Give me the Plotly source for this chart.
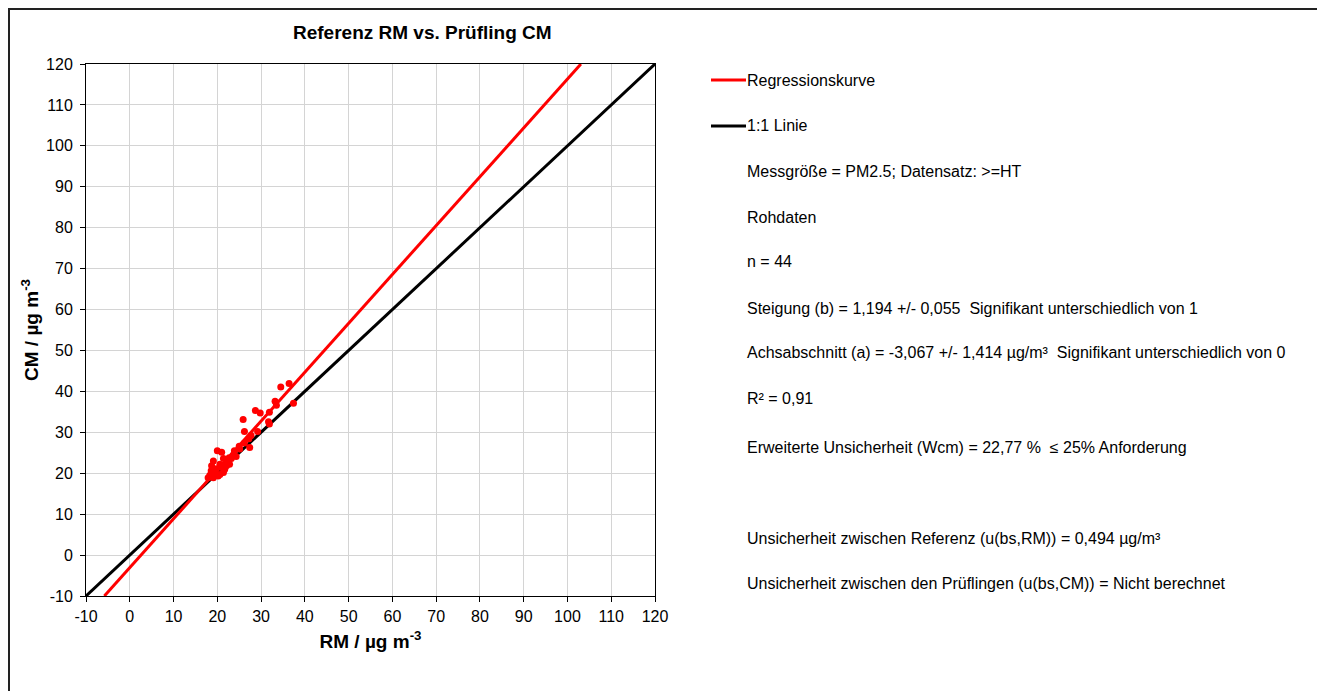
import plotly.graph_objects as go

# ---- data ----
rm = [34.5, 36.4, 33.2, 33.5, 37.4, 28.7, 29.8, 31.9, 25.9, 31.7, 31.9, 26.2, 29.2, 27.7,
      27.2, 27.4, 26.2, 25.1, 23.9, 23.6, 23.2, 20.0, 21.0, 21.4, 22.3, 19.1, 20.6, 19.8,
      18.7, 21.0, 19.5, 18.3, 19.1, 20.2, 17.9, 21.4, 22.1, 21.7, 22.8, 24.3, 22.7, 20.6,
      18.6, 25.0]
cm = [41.1, 41.9, 37.6, 36.6, 37.1, 35.3, 34.7, 34.9, 33.1, 32.6, 32.0, 30.2, 30.2, 29.2,
      28.4, 26.3, 27.4, 25.9, 25.5, 24.4, 23.6, 25.5, 25.1, 23.6, 23.0, 23.0, 22.2, 21.1,
      21.8, 21.4, 20.2, 19.5, 18.9, 19.3, 18.9, 20.2, 21.8, 21.0, 22.2, 24.1, 23.8, 19.7,
      20.6, 26.6]

slope = 1.194
intercept = -3.067
axis_min, axis_max = -10, 120
ticks = list(range(-10, 121, 10))

info_lines = [
    "Messgröße = PM2.5; Datensatz: >=HT",
    "Rohdaten",
    "n = 44",
    "Steigung (b) = 1,194 +/- 0,055  Signifikant unterschiedlich von 1",
    "Achsabschnitt (a) = -3,067 +/- 1,414 µg/m³  Signifikant unterschiedlich von 0",
    "R² = 0,91",
    "Erweiterte Unsicherheit (Wcm) = 22,77 %  ≤ 25% Anforderung",
    "Unsicherheit zwischen Referenz (u(bs,RM)) = 0,494 µg/m³",
    "Unsicherheit zwischen den Prüflingen (u(bs,CM)) = Nicht berechnet",
]
info_y_px = [171, 217, 262, 308, 353, 398, 447, 538, 583]
legend_names = ["Regressionskurve", "1:1 Linie"]
legend_colors = ["#ff0000", "#000000"]
legend_y_px = [80, 126]

# ---- geometry (page has an 8px body margin; target screen px -> figure px) ----
OFF = 8
W, H = 1325 - OFF, 691 - OFF
L, R, T, B = 86 - OFF, 655 - OFF, 64 - OFF, 596 - OFF
pw, ph = R - L, B - T


def px2paper_x(px):
    return (px - OFF - L) / pw


def px2paper_y(py):
    return (B - (py - OFF)) / ph


FONT = "Liberation Sans, Arial, sans-serif"
TEXT_SIZE = 16

# regression line end points within axis range
x_reg0 = (axis_min - intercept) / slope
x_reg1 = (axis_max - intercept) / slope

fig = go.Figure()
fig.add_trace(go.Scatter(
    x=[axis_min, axis_max], y=[axis_min, axis_max], mode="lines",
    line=dict(color="#000000", width=3), name="1:1 Linie", showlegend=False,
    hoverinfo="skip"))
fig.add_trace(go.Scatter(
    x=rm, y=cm, mode="markers", marker=dict(color="#ff0000", size=7),
    name="Daten", showlegend=False))
fig.add_trace(go.Scatter(
    x=[x_reg0, x_reg1], y=[slope * x_reg0 + intercept, slope * x_reg1 + intercept],
    mode="lines", line=dict(color="#ff0000", width=3), name="Regressionskurve",
    showlegend=False, hoverinfo="skip"))

shapes = []
annotations = []

# outer chart frame
shapes.append(dict(type="rect", xref="paper", yref="paper",
                   x0=px2paper_x(9), x1=px2paper_x(1318),
                   y0=px2paper_y(720), y1=px2paper_y(9),
                   line=dict(color="#222222", width=2), layer="below"))

# legend-like entries
for name, col, py in zip(legend_names, legend_colors, legend_y_px):
    shapes.append(dict(type="line", xref="paper", yref="paper",
                       x0=px2paper_x(711), x1=px2paper_x(746),
                       y0=px2paper_y(py), y1=px2paper_y(py),
                       line=dict(color=col, width=3)))
    annotations.append(dict(text=name, xref="paper", yref="paper",
                            x=px2paper_x(745), y=px2paper_y(py),
                            xanchor="left", yanchor="middle", showarrow=False,
                            font=dict(family=FONT, size=TEXT_SIZE, color="#000000")))

for txt, py in zip(info_lines, info_y_px):
    annotations.append(dict(text=txt, xref="paper", yref="paper",
                            x=px2paper_x(745), y=px2paper_y(py),
                            xanchor="left", yanchor="middle", showarrow=False,
                            font=dict(family=FONT, size=TEXT_SIZE, color="#000000")))

# title
annotations.append(dict(text="<b>Referenz RM vs. Prüfling CM</b>", xref="paper", yref="paper",
                        x=px2paper_x(423), y=px2paper_y(33), xanchor="center",
                        yanchor="middle", showarrow=False,
                        font=dict(family=FONT, size=19, color="#000000")))

axis_common = dict(
    range=[axis_min, axis_max], tickvals=ticks, ticktext=[str(t) for t in ticks],
    showgrid=True, gridcolor="#d4d4d4", gridwidth=1, zeroline=False,
    showline=True, linecolor="#000000", linewidth=1, mirror=True,
    ticks="outside", ticklen=5, tickcolor="#000000",
    tickfont=dict(family=FONT, size=16, color="#000000"),
)

fig.update_layout(
    width=W, height=H,
    margin=dict(l=L, r=W - R, t=T, b=H - B),
    paper_bgcolor="#ffffff", plot_bgcolor="#ffffff",
    showlegend=False,
    xaxis=dict(axis_common, ticklabelstandoff=1,
               title=dict(text="<b>RM / µg m<sup>-3</sup></b>",
                          font=dict(family=FONT, size=19, color="#000000"),
                          standoff=10)),
    yaxis=dict(axis_common, ticklabelstandoff=4,
               title=dict(text="<b>CM / µg m<sup>-3</sup></b>",
                          font=dict(family=FONT, size=19, color="#000000"),
                          standoff=2)),
    shapes=shapes, annotations=annotations,
)

fig.write_html("out.html")
